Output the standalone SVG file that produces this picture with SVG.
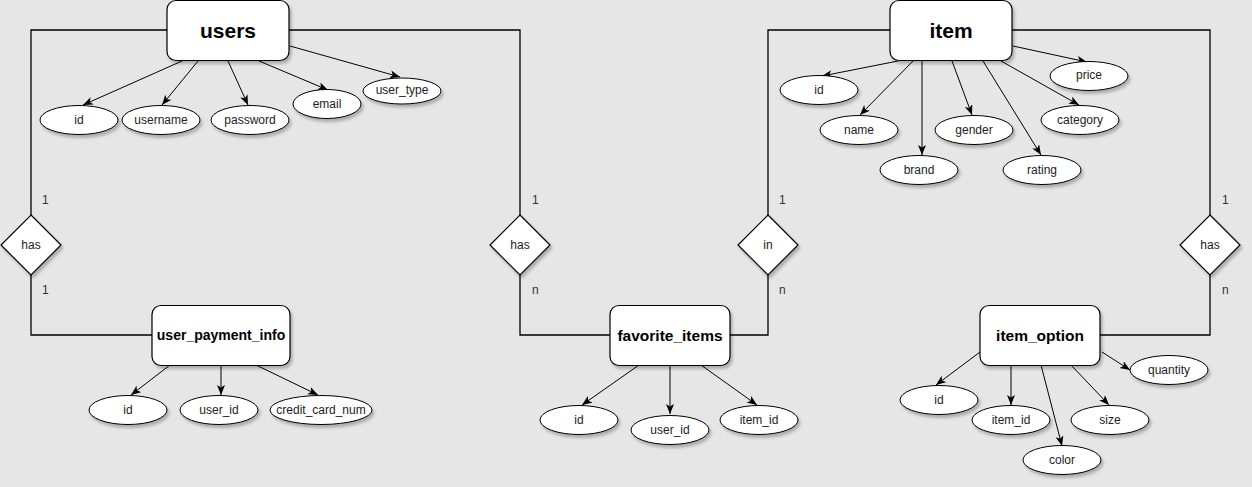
<svg xmlns="http://www.w3.org/2000/svg" width="1252" height="487" viewBox="0 0 1252 487">
<defs>
<style>
.ent{fill:#fff;stroke:#000;stroke-width:1.2;filter:url(#sh)}
.att{fill:#fff;stroke:#000;stroke-width:1;filter:url(#sh)}
.rel{fill:#fff;stroke:#000;stroke-width:1.2;filter:url(#sh)}
.big{font-family:"Liberation Sans",Arial,sans-serif;font-weight:bold;font-size:21px;fill:#000;text-anchor:middle;dominant-baseline:central}
.mid{font-family:"Liberation Sans",Arial,sans-serif;font-weight:bold;font-size:15.5px;fill:#000;text-anchor:middle;dominant-baseline:central}
.sm{font-family:"Liberation Sans",Arial,sans-serif;font-size:12px;fill:#222;text-anchor:middle;dominant-baseline:central}
.card{font-family:"Liberation Sans",Arial,sans-serif;font-size:12px;fill:#333;text-anchor:start;dominant-baseline:central}
.lnk{fill:none;stroke:#000;stroke-width:1.3}
.arr{fill:none;stroke:#000;stroke-width:1;marker-end:url(#ah)}
</style>
<filter id="sh" x="-20%" y="-20%" width="150%" height="160%">
<feDropShadow dx="2" dy="3" stdDeviation="1.5" flood-color="#000" flood-opacity="0.25"/>
</filter>
<marker id="ah" markerUnits="userSpaceOnUse" markerWidth="12" markerHeight="10" refX="10" refY="4" orient="auto">
<path d="M0,0 L10,4 L0,8 L2.5,4 z" fill="#000"/>
</marker>
</defs>
<rect width="1252" height="487" fill="#e6e6e6"/>

<g id="connectors">
<polyline class="lnk" points="167,30 31,30 31,215"/>
<polyline class="lnk" points="31,275 31,335 152,335"/>
<polyline class="lnk" points="289,30 520,30 520,215"/>
<polyline class="lnk" points="520,275 520,335 610,335"/>
<polyline class="lnk" points="730,335 768,335 768,275"/>
<polyline class="lnk" points="768,215 768,30 890,30"/>
<polyline class="lnk" points="1012,30 1210,30 1210,215"/>
<polyline class="lnk" points="1210,275 1210,335 1100,335"/>

<line class="arr" x1="182" y1="61" x2="83" y2="105"/>
<line class="arr" x1="198" y1="61" x2="162" y2="105"/>
<line class="arr" x1="228" y1="61" x2="248" y2="105"/>
<line class="arr" x1="259" y1="61" x2="328" y2="90"/>
<line class="arr" x1="290" y1="46" x2="400" y2="77"/>

<line class="arr" x1="170" y1="365" x2="131" y2="395"/>
<line class="arr" x1="221" y1="365" x2="221" y2="395"/>
<line class="arr" x1="256" y1="365" x2="318" y2="395"/>

<line class="arr" x1="639" y1="365" x2="582" y2="405"/>
<line class="arr" x1="670" y1="365" x2="670" y2="414"/>
<line class="arr" x1="701" y1="365" x2="757" y2="405"/>

<line class="arr" x1="898" y1="61" x2="822" y2="76"/>
<line class="arr" x1="913" y1="61" x2="860" y2="115"/>
<line class="arr" x1="922" y1="61" x2="922" y2="155"/>
<line class="arr" x1="952" y1="61" x2="972" y2="115"/>
<line class="arr" x1="983" y1="61" x2="1041" y2="155"/>
<line class="arr" x1="1001" y1="61" x2="1079" y2="105"/>
<line class="arr" x1="1013" y1="46" x2="1087" y2="62"/>

<line class="arr" x1="980" y1="352" x2="936" y2="385"/>
<line class="arr" x1="1011" y1="365" x2="1011" y2="405"/>
<line class="arr" x1="1041" y1="365" x2="1062" y2="446"/>
<line class="arr" x1="1071" y1="365" x2="1109" y2="405"/>
<line class="arr" x1="1102" y1="352" x2="1130" y2="370"/>

<text class="card" x="42" y="200">1</text>
<text class="card" x="42" y="290">1</text>
<text class="card" x="532" y="200">1</text>
<text class="card" x="532" y="290">n</text>
<text class="card" x="779" y="200">1</text>
<text class="card" x="779" y="290">n</text>
<text class="card" x="1222" y="200">1</text>
<text class="card" x="1222" y="290">n</text>
</g>

<g id="users">
<rect class="ent" x="167" y="0.5" width="122" height="60" rx="9"/>
<text class="big" x="228" y="30">users</text>
</g>
<g id="users_id"><ellipse class="att" cx="79" cy="120" rx="39" ry="14.5"/><text class="sm" x="79" y="120">id</text></g>
<g id="users_username"><ellipse class="att" cx="161" cy="120" rx="39" ry="14.5"/><text class="sm" x="161" y="120">username</text></g>
<g id="users_password"><ellipse class="att" cx="250" cy="120" rx="39" ry="14.5"/><text class="sm" x="250" y="120">password</text></g>
<g id="users_email"><ellipse class="att" cx="327" cy="104" rx="34" ry="14.5"/><text class="sm" x="327" y="104">email</text></g>
<g id="users_user_type"><ellipse class="att" cx="402" cy="91" rx="39" ry="13"/><text class="sm" x="402" y="90">user_type</text></g>

<g id="rel_has_payment">
<polygon class="rel" points="31,215 61,245 31,275 1,245"/>
<text class="sm" x="31" y="245">has</text>
</g>
<g id="rel_has_fav">
<polygon class="rel" points="520,215 550,245 520,275 490,245"/>
<text class="sm" x="520" y="245">has</text>
</g>
<g id="rel_in">
<polygon class="rel" points="768,215 798,245 768,275 738,245"/>
<text class="sm" x="768" y="245">in</text>
</g>
<g id="rel_has_option">
<polygon class="rel" points="1210,215 1240,245 1210,275 1180,245"/>
<text class="sm" x="1210" y="245">has</text>
</g>

<g id="user_payment_info">
<rect class="ent" x="152" y="305.5" width="138" height="60" rx="9"/>
<text class="mid" x="221" y="335" style="font-size:14px">user_payment_info</text>
</g>
<g id="upi_id"><ellipse class="att" cx="128" cy="410" rx="39" ry="14.5"/><text class="sm" x="128" y="410">id</text></g>
<g id="upi_user_id"><ellipse class="att" cx="219" cy="410" rx="39" ry="14.5"/><text class="sm" x="219" y="410">user_id</text></g>
<g id="upi_credit_card_num"><ellipse class="att" cx="321" cy="410" rx="51" ry="14.5"/><text class="sm" x="321" y="410">credit_card_num</text></g>

<g id="favorite_items">
<rect class="ent" x="610" y="305.5" width="120" height="60" rx="9"/>
<text class="mid" x="670" y="335">favorite_items</text>
</g>
<g id="fav_id"><ellipse class="att" cx="579" cy="420" rx="39" ry="14.5"/><text class="sm" x="579" y="420">id</text></g>
<g id="fav_user_id"><ellipse class="att" cx="670" cy="430" rx="39" ry="14.5"/><text class="sm" x="670" y="430">user_id</text></g>
<g id="fav_item_id"><ellipse class="att" cx="759" cy="420" rx="39" ry="14.5"/><text class="sm" x="759" y="420">item_id</text></g>

<g id="item">
<rect class="ent" x="890" y="0.5" width="122" height="60" rx="9"/>
<text class="big" x="951" y="30">item</text>
</g>
<g id="item_id_attr"><ellipse class="att" cx="819" cy="90" rx="39" ry="14.5"/><text class="sm" x="819" y="90">id</text></g>
<g id="item_name"><ellipse class="att" cx="859" cy="130" rx="39" ry="14.5"/><text class="sm" x="859" y="130">name</text></g>
<g id="item_brand"><ellipse class="att" cx="919" cy="170" rx="39" ry="14.5"/><text class="sm" x="919" y="170">brand</text></g>
<g id="item_gender"><ellipse class="att" cx="974" cy="130" rx="39" ry="14.5"/><text class="sm" x="974" y="130">gender</text></g>
<g id="item_rating"><ellipse class="att" cx="1042" cy="170" rx="39" ry="14.5"/><text class="sm" x="1042" y="170">rating</text></g>
<g id="item_category"><ellipse class="att" cx="1080" cy="120" rx="39" ry="14.5"/><text class="sm" x="1080" y="120">category</text></g>
<g id="item_price"><ellipse class="att" cx="1089" cy="76" rx="39" ry="14.5"/><text class="sm" x="1089" y="75">price</text></g>

<g id="item_option">
<rect class="ent" x="980" y="305.5" width="120" height="60" rx="9"/>
<text class="mid" x="1040" y="335">item_option</text>
</g>
<g id="opt_id"><ellipse class="att" cx="939" cy="400" rx="39" ry="14.5"/><text class="sm" x="939" y="400">id</text></g>
<g id="opt_item_id"><ellipse class="att" cx="1011" cy="420" rx="39" ry="14.5"/><text class="sm" x="1011" y="420">item_id</text></g>
<g id="opt_color"><ellipse class="att" cx="1062" cy="460" rx="39" ry="14.5"/><text class="sm" x="1062" y="460">color</text></g>
<g id="opt_size"><ellipse class="att" cx="1110" cy="420" rx="39" ry="14.5"/><text class="sm" x="1110" y="420">size</text></g>
<g id="opt_quantity"><ellipse class="att" cx="1169" cy="370" rx="39" ry="14.5"/><text class="sm" x="1169" y="370">quantity</text></g>
</svg>
